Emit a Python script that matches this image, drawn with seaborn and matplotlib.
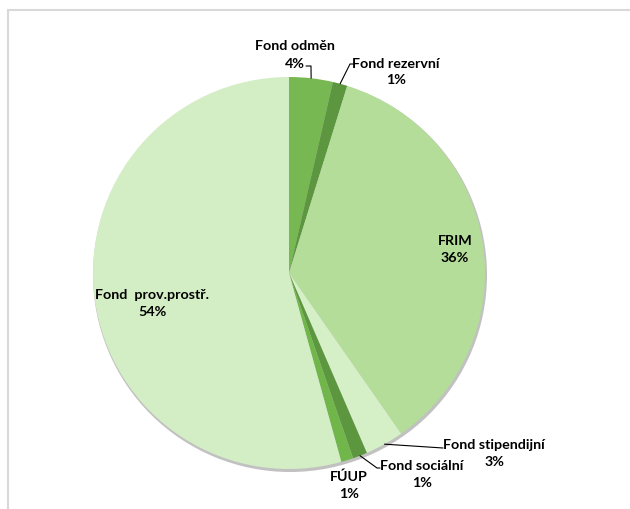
import numpy as np
import seaborn as sns
import matplotlib.pyplot as plt
from matplotlib.patches import Circle, Rectangle

# Slice data (clockwise from top)
labels = ["Fond odměn", "Fond rezervní", "FRIM", "Fond stipendijní",
          "Fond sociální", "FÚUP", "Fond  prov.prostř."]
shares = [3.6, 1.2, 35.5, 3.2, 1.2, 1.0, 54.3]
colors = ["#78b853", "#5c973f", "#b4dd99", "#d5efc7",
          "#5c973f", "#70b64a", "#d3edc4"]

# Layout (pixel coords, y down): label centre, optional leader elbow
label_pos = [(295, 55), (396, 72), (455, 250), (494, 454),
             (422, 475), (349, 485), (152, 304)]
elbows = [(306, 67), (354, 65), None, (443, 449), (380, 469), None, None]
leader = [True, True, False, True, True, False, False]

center = (289, 274)
radius = 196

sns.set_theme(style="white")
plt.rcParams['font.family'] = ['Lato', 'DejaVu Sans']

fig = plt.figure(figsize=(6.3, 5.1), dpi=100)
ax = fig.add_axes([0, 0, 1, 1])

# soft outer shadow
ax.add_patch(Circle((center[0] + 1, center[1] + 2), radius + 1,
                    facecolor="#8f8f8f", edgecolor="none", alpha=0.55, zorder=1))

wedges, _ = ax.pie(shares, colors=colors, startangle=-90, counterclock=True,
                   center=center, radius=radius,
                   wedgeprops=dict(edgecolor="none", zorder=2))

for w, lab, val, pos, elb, has_line in zip(wedges, labels, shares,
                                           label_pos, elbows, leader):
    ax.text(pos[0], pos[1], f"{lab}\n{val:.0f}%", ha="center", va="center",
            fontsize=10.3, fontweight="bold", color="black",
            linespacing=1.5, zorder=5)
    if has_line:
        mid = np.deg2rad((w.theta1 + w.theta2) / 2)
        px = center[0] + radius * np.cos(mid)
        py = center[1] + radius * np.sin(mid)
        if lab == "Fond odměn":
            xs = [elb[0], elb[0] + 5, px]
            ys = [elb[1], elb[1], py]
        elif lab == "Fond rezervní":
            xs = [elb[0], elb[0] - 4, px]
            ys = [elb[1], elb[1], py]
        elif lab == "Fond sociální":
            xs = [px, elb[0] - 3, elb[0]]
            ys = [py, elb[1], elb[1]]
        else:
            xs = [px, elb[0]]
            ys = [py, elb[1]]
        ax.plot(xs, ys, color="black", lw=0.8, zorder=4)

ax.set_xlim(0, 630)
ax.set_ylim(510, 0)
ax.set_aspect("equal")
ax.axis("off")

# chart area border (cropped at right and bottom)
fig.add_artist(Rectangle((8 / 630, -0.1), 1.2, (510 - 11) / 510 + 0.1,
                         transform=fig.transFigure, fill=False,
                         edgecolor="#d9d9d9", lw=1.5))

fig.savefig("out.png", dpi=100, facecolor="white")
